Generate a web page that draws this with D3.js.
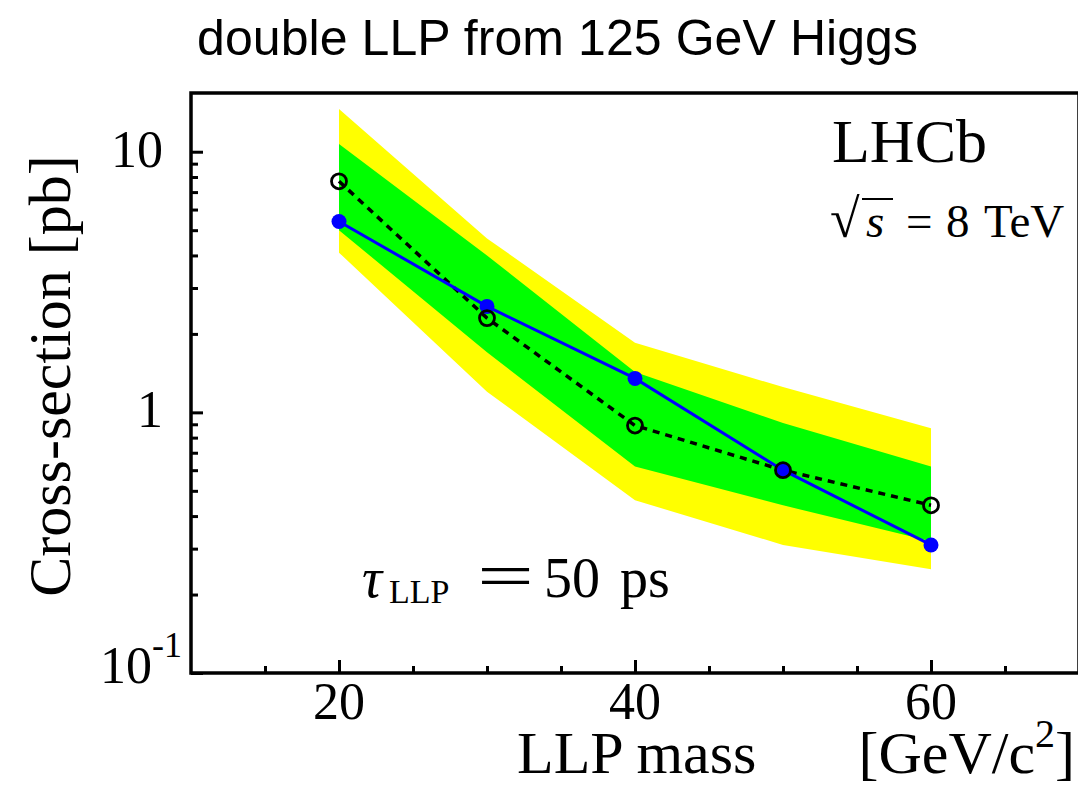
<!DOCTYPE html>
<html>
<head>
<meta charset="utf-8">
<script src="https://cdn.jsdelivr.net/npm/d3@7"></script>
<style>
  body { margin: 0; background: #fff; }
  svg { display: block; }
  .serif { font-family: "Liberation Serif", "DejaVu Serif", serif; }
</style>
</head>
<body>
<svg id="chart" width="1078" height="785"></svg>
<script>
// values
const mass = [20, 30, 40, 50, 60];
const observed = [5.4, 2.55, 1.35, 0.60, 0.31];
const expected = [7.7, 2.3, 0.89, 0.60, 0.44];
const band1Lo = [5.0, 1.70, 0.62, 0.44, 0.32];
const band1Hi = [10.7, 4.0, 1.43, 0.91, 0.62];
const band2Lo = [4.1, 1.2, 0.46, 0.31, 0.25];
const band2Hi = [14.6, 4.65, 1.85, 1.25, 0.87];

const xMajorTicks = [20, 40, 60];
const xMinorTicks = [15, 25, 30, 35, 45, 50, 55, 65];
const yMajorTicks = [0.1, 1, 10];
const yTickLabels = [['10', '-1'], ['1', ''], ['10', '']];
const yMinorTicks = [0.2, 0.3, 0.4, 0.5, 0.6, 0.7, 0.8, 0.9, 2, 3, 4, 5, 6, 7, 8, 9];

const svg = d3.select('#chart');

const plotLeft = 191, plotRight = 1079, plotTop = 93, plotBottom = 673;

const x = d3.scaleLinear().domain([10, 70]).range([plotLeft, plotRight]);
const y = d3.scaleLog().domain([0.1, 16.8]).range([plotBottom, plotTop]);

const rows = mass.map((m, i) => ({
    m: m,
    obs: observed[i],
    exp: expected[i],
    lo1: band1Lo[i], hi1: band1Hi[i],
    lo2: band2Lo[i], hi2: band2Hi[i]
}));

// bands
const area = (lo, hi) => d3.area()
    .x(d => x(d.m))
    .y0(d => y(d[lo]))
    .y1(d => y(d[hi]));

svg.append('path')
    .datum(rows)
    .attr('d', area('lo2', 'hi2'))
    .attr('fill', '#ffff00');

svg.append('path')
    .datum(rows)
    .attr('d', area('lo1', 'hi1'))
    .attr('fill', '#00ff00');

// expected (dashed)
svg.append('path')
    .datum(rows)
    .attr('d', d3.line().x(d => x(d.m)).y(d => y(d.exp)))
    .attr('fill', 'none')
    .attr('stroke', 'black')
    .attr('stroke-width', 3.5)
    .attr('stroke-dasharray', '7,6');

// observed
svg.append('path')
    .datum(rows)
    .attr('d', d3.line().x(d => x(d.m)).y(d => y(d.obs)))
    .attr('fill', 'none')
    .attr('stroke', '#0000ff')
    .attr('stroke-width', 3);

svg.selectAll('circle.obs')
    .data(rows)
    .join('circle')
    .attr('class', 'obs')
    .attr('cx', d => x(d.m))
    .attr('cy', d => y(d.obs))
    .attr('r', 7.5)
    .attr('fill', '#0000ff');

svg.selectAll('circle.exp')
    .data(rows)
    .join('circle')
    .attr('class', 'exp')
    .attr('cx', d => x(d.m))
    .attr('cy', d => y(d.exp))
    .attr('r', 7.5)
    .attr('fill', 'none')
    .attr('stroke', 'black')
    .attr('stroke-width', 2.8);

// frame
svg.append('path')
    .attr('d', `M${plotLeft},${plotBottom}V${plotTop}H${plotRight}V${plotBottom}Z`)
    .attr('fill', 'none')
    .attr('stroke', 'black')
    .attr('stroke-width', 3.5);

// axes
const styleAxis = g => {
    g.select('.domain').remove();
    g.selectAll('.tick line').attr('stroke', 'black').attr('stroke-width', 3);
    g.selectAll('.tick text').remove();
};

svg.append('g')
    .attr('transform', `translate(0,${plotBottom})`)
    .call(d3.axisBottom(x).tickValues(xMinorTicks).tickSize(-7).tickSizeOuter(0))
    .call(styleAxis);

svg.append('g')
    .attr('transform', `translate(0,${plotBottom})`)
    .call(d3.axisBottom(x).tickValues(xMajorTicks).tickSize(-13).tickSizeOuter(0))
    .call(styleAxis);

svg.append('g')
    .attr('transform', `translate(${plotLeft},0)`)
    .call(d3.axisLeft(y).tickValues(yMinorTicks).tickSize(-7).tickSizeOuter(0))
    .call(styleAxis);

svg.append('g')
    .attr('transform', `translate(${plotLeft},0)`)
    .call(d3.axisLeft(y).tickValues(yMajorTicks).tickSize(-12).tickSizeOuter(0))
    .call(styleAxis);

// tick labels
svg.selectAll('text.xlab')
    .data(xMajorTicks)
    .join('text')
    .attr('class', 'xlab serif')
    .attr('x', d => x(d))
    .attr('y', 719)
    .attr('text-anchor', 'middle')
    .attr('font-size', 52)
    .text(d => d);

yMajorTicks.forEach((v, i) => {
    const lab = yTickLabels[i];
    const t = svg.append('text')
        .attr('class', 'serif')
        .attr('y', y(v) + 15)
        .attr('font-size', 52)
        .attr('text-anchor', 'end');
    if (lab[1]) {
        t.attr('x', 182).attr('y', y(v) + 10);
        t.append('tspan').text(lab[0]);
        t.append('tspan').attr('dy', -26).attr('font-size', 36).text(lab[1]);
    } else {
        t.attr('x', 163).text(lab[0]);
    }
});

// axis titles
svg.append('text')
    .attr('class', 'serif')
    .attr('transform', 'translate(70,376) rotate(-90)')
    .attr('text-anchor', 'middle')
    .attr('font-size', 60)
    .text('Cross-section [pb]');

svg.append('text')
    .attr('class', 'serif')
    .attr('x', 517)
    .attr('y', 773)
    .attr('font-size', 60)
    .text('LLP mass');

const unit = svg.append('text')
    .attr('class', 'serif')
    .attr('x', 1075)
    .attr('y', 773)
    .attr('text-anchor', 'end')
    .attr('font-size', 60);
unit.append('tspan').text('[GeV/c');
unit.append('tspan').attr('dy', -26).attr('font-size', 40).text('2');
unit.append('tspan').attr('dy', 26).text(']');

// title
svg.append('text')
    .attr('x', 197)
    .attr('y', 55)
    .attr('font-family', '"Liberation Sans", Arial, sans-serif')
    .attr('font-size', 50)
    .attr('textLength', 721)
    .text('double LLP from 125 GeV Higgs');

// LHCb label
svg.append('text')
    .attr('class', 'serif')
    .attr('x', 832)
    .attr('y', 162)
    .attr('font-size', 62)
    .text('LHCb');

const sq = svg.append('text')
    .attr('class', 'serif')
    .attr('y', 237)
    .attr('font-size', 47);
sq.append('tspan').attr('x', 830).attr('font-size', 54).text('\u221A');
sq.append('tspan').attr('x', 866).attr('font-style', 'italic').text('s');
sq.append('tspan').attr('x', 906).text('=');
sq.append('tspan').attr('x', 946).text('8');
sq.append('tspan').attr('x', 984).text('TeV');
svg.append('line')
    .attr('x1', 862)
    .attr('x2', 893)
    .attr('y1', 199)
    .attr('y2', 199)
    .attr('stroke', 'black')
    .attr('stroke-width', 2);

// lifetime label
const tau = svg.append('text')
    .attr('class', 'serif')
    .attr('y', 597)
    .attr('font-size', 56);
tau.append('tspan').attr('x', 362).attr('font-style', 'italic').text('\u03C4');
tau.append('tspan').attr('x', 389).attr('dy', 6).attr('font-size', 34).text('LLP');
tau.append('tspan').attr('x', 477).attr('dy', -6).attr('font-size', 64)
    .attr('textLength', 57).attr('lengthAdjust', 'spacingAndGlyphs').text('=');
tau.append('tspan').attr('x', 544).text('50');
tau.append('tspan').attr('x', 620).text('ps');
</script>
</body>
</html>
